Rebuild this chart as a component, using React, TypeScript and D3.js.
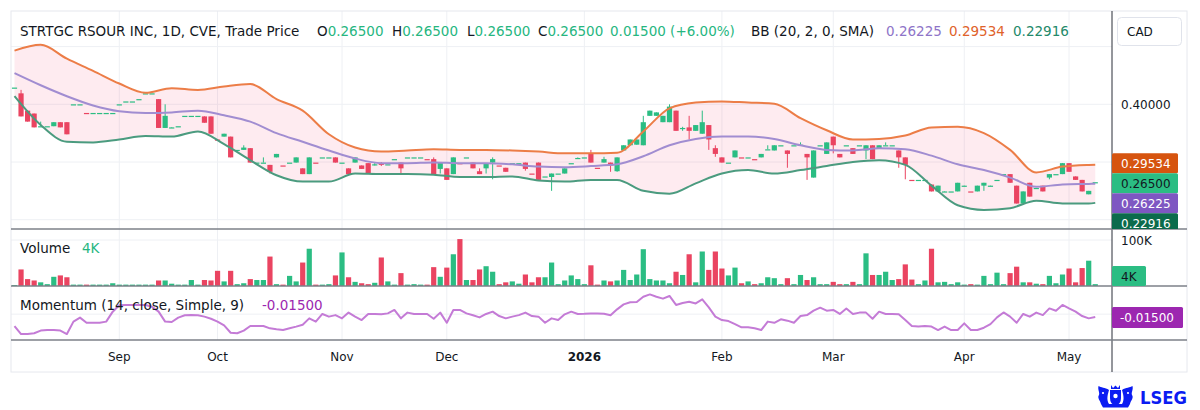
import * as d3 from "d3";
import { useEffect } from "react";

// x-axis: bar index of the first session of each month
const monthIdx = [16, 31, 50, 66, 87, 108, 125, 145, 161];
const monthLabels = ["Sep", "Oct", "Nov", "Dec", "2026", "Feb", "Mar", "Apr", "May"];

// daily bars, a single number means open = high = low = close
const ohlc: (number | number[])[] = [
  0.429, [0.419, 0.425, 0.379, 0.379], [0.389, 0.389, 0.37, 0.37], [0.384, 0.384, 0.36, 0.36], [0.362, 0.37, 0.362, 0.362],
  0.362, [0.362, 0.369, 0.362, 0.369], [0.369, 0.369, 0.36, 0.36], [0.369, 0.369, 0.348, 0.348], 0.4,
  0.4, 0.385, 0.385, 0.385, 0.385,
  0.385, 0.4, 0.405, 0.405, 0.409,
  0.419, 0.419, [0.409, 0.409, 0.359, 0.359], [0.359, 0.4, 0.359, 0.38], [0.359, 0.36, 0.359, 0.36],
  0.362, 0.38, 0.38, 0.38, [0.379, 0.379, 0.368, 0.368],
  [0.379, 0.379, 0.349, 0.349], 0.339, [0.344, 0.349, 0.344, 0.349], [0.344, 0.344, 0.308, 0.308], 0.321,
  [0.321, 0.329, 0.321, 0.325], [0.324, 0.324, 0.299, 0.299], 0.299, [0.299, 0.308, 0.299, 0.299], [0.295, 0.295, 0.28, 0.283],
  [0.308, 0.314, 0.308, 0.314], 0.294, 0.299, [0.299, 0.308, 0.299, 0.308], [0.289, 0.289, 0.279, 0.279],
  [0.279, 0.308, 0.279, 0.308], 0.299, 0.308, 0.308, [0.308, 0.308, 0.299, 0.299],
  0.299, [0.289, 0.289, 0.279, 0.279], [0.299, 0.308, 0.299, 0.308], [0.294, 0.294, 0.288, 0.288], [0.298, 0.298, 0.279, 0.279],
  [0.296, 0.298, 0.294, 0.296], [0.298, 0.3, 0.293, 0.295], 0.296, 0.305, [0.299, 0.299, 0.28, 0.289],
  0.308, 0.308, 0.308, 0.305, [0.305, 0.308, 0.279, 0.279],
  [0.288, 0.299, 0.28, 0.299], [0.289, 0.289, 0.269, 0.269], [0.279, 0.308, 0.279, 0.308], 0.298, 0.308,
  [0.299, 0.299, 0.289, 0.289], [0.284, 0.289, 0.279, 0.279], [0.289, 0.298, 0.28, 0.298], [0.299, 0.308, 0.27, 0.305], 0.294,
  [0.29, 0.29, 0.283, 0.283], 0.298, 0.298, [0.299, 0.299, 0.285, 0.288], 0.28,
  [0.299, 0.299, 0.269, 0.269], 0.275, [0.274, 0.28, 0.25, 0.28], 0.28, [0.28, 0.289, 0.28, 0.289],
  0.298, [0.307, 0.308, 0.307, 0.307], 0.308, [0.315, 0.321, 0.299, 0.299], 0.29,
  [0.299, 0.309, 0.299, 0.305], [0.299, 0.299, 0.283, 0.294], [0.284, 0.308, 0.283, 0.308], [0.32, 0.329, 0.32, 0.329], [0.329, 0.339, 0.329, 0.339],
  [0.33, 0.339, 0.33, 0.339], [0.329, 0.38, 0.329, 0.369], [0.38, 0.389, 0.38, 0.389], [0.38, 0.386, 0.38, 0.386], [0.369, 0.38, 0.369, 0.38],
  [0.369, 0.4, 0.369, 0.396], [0.389, 0.389, 0.354, 0.354], [0.359, 0.361, 0.354, 0.359], [0.36, 0.38, 0.339, 0.354], [0.354, 0.364, 0.354, 0.364],
  [0.349, 0.389, 0.349, 0.369], [0.364, 0.364, 0.321, 0.339], [0.324, 0.329, 0.309, 0.314], [0.308, 0.308, 0.299, 0.299], 0.299,
  [0.308, 0.32, 0.308, 0.32], 0.308, 0.308, 0.305, [0.308, 0.314, 0.308, 0.314],
  [0.322, 0.329, 0.322, 0.322], [0.32, 0.329, 0.32, 0.329], 0.329, [0.32, 0.32, 0.29, 0.314], 0.329,
  [0.328, 0.334, 0.328, 0.33], [0.314, 0.314, 0.269, 0.308], [0.273, 0.32, 0.273, 0.32], 0.329, [0.314, 0.334, 0.314, 0.334],
  [0.344, 0.344, 0.315, 0.329], [0.314, 0.314, 0.308, 0.308], 0.329, [0.324, 0.324, 0.314, 0.314], 0.329,
  [0.32, 0.329, 0.305, 0.329], [0.329, 0.329, 0.305, 0.305], [0.324, 0.329, 0.324, 0.329], [0.329, 0.334, 0.329, 0.329], 0.329,
  [0.32, 0.32, 0.29, 0.308], [0.308, 0.308, 0.27, 0.295], 0.269, 0.269, 0.269,
  [0.261, 0.261, 0.249, 0.249], [0.249, 0.259, 0.249, 0.259], [0.248, 0.249, 0.248, 0.249], 0.249, [0.249, 0.264, 0.249, 0.264],
  [0.258, 0.259, 0.258, 0.259], 0.249, [0.249, 0.259, 0.249, 0.259], [0.259, 0.264, 0.25, 0.264], [0.258, 0.259, 0.258, 0.259],
  0.269, 0.279, [0.279, 0.279, 0.264, 0.264], [0.259, 0.259, 0.228, 0.228], [0.228, 0.249, 0.228, 0.249],
  [0.264, 0.264, 0.24, 0.24], 0.255, [0.259, 0.259, 0.249, 0.249], [0.273, 0.279, 0.27, 0.279], 0.279,
  [0.279, 0.298, 0.279, 0.298], [0.298, 0.298, 0.283, 0.283], [0.275, 0.275, 0.269, 0.269], [0.269, 0.269, 0.249, 0.249], [0.244, 0.25, 0.244, 0.25],
  0.265,
];

// volume in thousands of shares
const volumeK = [
  2, 36, 15, 12, 8, 4, 20, 23, 19, 3,
  3, 3, 3, 3, 3, 6, 3, 3, 3, 3,
  3, 3, 12, 12, 5, 3, 3, 13, 3, 13,
  12, 33, 10, 33, 4, 6, 15, 13, 13, 64,
  4, 3, 22, 10, 51, 81, 3, 3, 4, 23,
  73, 19, 9, 6, 4, 7, 62, 10, 3, 28,
  3, 4, 3, 3, 41, 20, 40, 69, 102, 13,
  13, 36, 43, 31, 4, 8, 10, 5, 25, 8,
  19, 19, 51, 4, 12, 23, 15, 4, 45, 3,
  12, 10, 12, 35, 13, 25, 80, 15, 12, 12,
  6, 31, 24, 69, 8, 75, 35, 75, 38, 23,
  40, 6, 10, 4, 6, 19, 17, 4, 17, 4,
  24, 13, 19, 4, 4, 9, 4, 4, 9, 4,
  71, 24, 24, 31, 13, 15, 47, 14, 4, 12,
  81, 8, 9, 4, 8, 3, 4, 3, 22, 4,
  29, 4, 28, 42, 8, 8, 5, 4, 22, 6,
  25, 38, 8, 39, 55, 4,
];

// Momentum (14, close)
const momentum = [
  -0.062, -0.104, -0.104, -0.1, -0.086, -0.083, -0.083, -0.086, -0.104, -0.039,
  -0.018, -0.045, -0.045, -0.045, -0.039, 0.013, 0.046, 0.048, 0.048, 0.048,
  0.048, 0.039, 0.013, -0.039, -0.041, -0.018, -0.006, -0.005, -0.006, -0.013,
  -0.024, -0.039, -0.059, -0.097, -0.1, -0.086, -0.062, -0.062, -0.062, -0.074,
  -0.079, -0.083, -0.074, -0.065, -0.055, -0.022, -0.039, 0.001, -0.013, -0.005,
  -0.022, 0.008, -0.013, -0.031, 0.001, 0.001, -0.001, 0.004, 0.022, -0.022,
  0.008, 0.001, 0.001, 0.001, -0.024, 0.008, -0.045, 0.022, 0.022, 0.004,
  -0.006, -0.017, 0.001, 0.013, -0.01, -0.022, -0.013, -0.005, 0.008, -0.01,
  -0.013, -0.045, -0.022, -0.031, -0.001, 0.013, 0.001, 0.002, 0.004, 0.004,
  0.002, -0.006, 0.025, 0.051, 0.062, 0.063, 0.091, 0.103, 0.091, 0.081,
  0.095, 0.048, 0.058, 0.065, 0.056, 0.077, 0.035, -0.013, -0.031, -0.036,
  -0.052, -0.069, -0.069, -0.074, -0.083, -0.039, -0.045, -0.027, -0.034, -0.045,
  -0.01, -0.005, 0.018, 0.034, 0.018, 0.022, 0.001, 0.029, 0.001, 0.008,
  0.008, -0.024, 0.013, 0.001, 0.001, -0.001, -0.031, -0.062, -0.065, -0.062,
  -0.065, -0.083, -0.065, -0.083, -0.083, -0.048, -0.083, -0.083, -0.071, -0.052,
  -0.017, 0.009, -0.013, -0.045, 0.001, -0.013, 0.008, -0.005, 0.03, 0.018,
  0.048, 0.03, 0.013, -0.01, -0.022, -0.015,
];

// Bollinger bands (20, 2) read every 4 bars
const bandIdx = [
  0, 4, 8, 12, 16, 20, 24, 28, 32, 36, 40, 44, 48, 52, 56, 60, 64, 68, 72, 76, 80,
  84, 88, 92, 96, 100, 104, 108, 112, 116, 120, 124, 128, 132, 136, 140, 144, 148, 152, 156, 160, 164, 165,
];
const bbUpper = [
  0.493, 0.503, 0.479, 0.458, 0.436, 0.42, 0.428, 0.425, 0.431, 0.435, 0.409, 0.389, 0.348, 0.325, 0.318, 0.32,
  0.322, 0.321, 0.321, 0.32, 0.318, 0.315, 0.315, 0.316, 0.353, 0.393, 0.403, 0.405, 0.403, 0.401, 0.376, 0.355,
  0.339, 0.34, 0.346, 0.36, 0.361, 0.35, 0.321, 0.282, 0.292, 0.295, 0.29534,
];
const bbBasis = [
  0.454, 0.433, 0.414, 0.398, 0.388, 0.385, 0.386, 0.389, 0.381, 0.37, 0.35, 0.335, 0.32, 0.306, 0.298, 0.298,
  0.299, 0.298, 0.298, 0.296, 0.292, 0.291, 0.293, 0.296, 0.31, 0.329, 0.34, 0.344, 0.344, 0.34, 0.329, 0.321,
  0.32, 0.324, 0.322, 0.311, 0.296, 0.286, 0.273, 0.257, 0.261, 0.262, 0.26225,
];
const bbLower = [
  0.414, 0.364, 0.335, 0.334, 0.339, 0.345, 0.344, 0.353, 0.331, 0.303, 0.277, 0.266, 0.266, 0.28, 0.279, 0.279,
  0.278, 0.274, 0.274, 0.275, 0.268, 0.266, 0.269, 0.269, 0.25, 0.245, 0.263, 0.28, 0.286, 0.28, 0.286, 0.293,
  0.3, 0.303, 0.295, 0.259, 0.225, 0.217, 0.22, 0.233, 0.228, 0.228, 0.22916,
];

const priceTicks = [0.2, 0.3, 0.4, 0.5];

const UP = "#2bbd83";
const DOWN = "#ea4461";
const TXT = "#131722";
const GRID = "#eef0f4";
const FONT = "DejaVu Sans, sans-serif";

// d3 formats negatives with a unicode minus, the chart shows a plain hyphen
const f5 = (v: number) => d3.format(".5f")(v).replace("\u2212", "-");

export default function App() {
  useEffect(() => {
    document.body.style.margin = "0";
  }, []);

  const bars = ohlc.map((b) =>
    typeof b === "number" ? { o: b, h: b, l: b, c: b } : { o: b[0], h: b[1], l: b[2], c: b[3] }
  );
  const n = bars.length;
  const colorOf = (i: number) => {
    const { o, c } = bars[i];
    if (c > o) return UP;
    if (c < o) return DOWN;
    return i > 0 && c < bars[i - 1].c ? DOWN : UP;
  };

  const left = 11;
  const axisX = 1112;
  const right = 1187;
  const mainBottom = 229;
  const volBottom = 286;
  const momBottom = 340;
  const bottom = 372;

  const x = d3.scaleLinear().domain([0, n - 1]).range([14.5, 14.5 + 6.55 * (n - 1)]);
  const yP = d3.scaleLinear().domain([0.2, 0.5]).range([219.7, 46.6]);
  const yV = d3.scaleLinear().domain([0, 100]).range([volBottom, 240]);
  const yM = d3.scaleLinear().domain([-0.135, 0.147]).range([momBottom, volBottom]);

  const bandLine = (vals: number[]) =>
    d3
      .line<number>()
      .x((_, k) => x(bandIdx[k]))
      .y((v) => yP(v))
      .curve(d3.curveMonotoneX)(vals) || "";
  const bandArea =
    d3
      .area<number>()
      .x((_, k) => x(bandIdx[k]))
      .y0((_, k) => yP(bbLower[k]))
      .y1((v) => yP(v))
      .curve(d3.curveMonotoneX)(bbUpper) || "";
  const momPath =
    d3
      .line<number>()
      .x((_, i) => x(i))
      .y((v) => yM(v))(momentum) || "";

  const last = bars[n - 1];
  const prev = bars[n - 2];
  const chg = last.c - prev.c;
  const lastUpper = bbUpper[bbUpper.length - 1];
  const lastBasis = bbBasis[bbBasis.length - 1];
  const lastLower = bbLower[bbLower.length - 1];
  const lastMom = momentum[n - 1];
  const lastVol = volumeK[n - 1];

  // price-axis value labels, pushed apart so they do not overlap
  const tags = [
    { v: lastUpper, fill: "#d6540f", color: "#fff" },
    { v: last.c, fill: UP, color: TXT },
    { v: lastBasis, fill: "#7e57c2", color: "#fff" },
    { v: lastLower, fill: "#0b6b4c", color: "#fff" },
  ]
    .map((t) => ({ ...t, y: yP(t.v) }))
    .sort((a, b) => a.y - b.y);
  for (let k = 1; k < tags.length; k++) {
    if (tags[k].y < tags[k - 1].y + 20) tags[k].y = tags[k - 1].y + 20;
  }
  tags.forEach((t) => (t.y -= 1.5));
  const visibleTicks = priceTicks.filter(
    (p) => yP(p) > 52 && tags.every((t) => Math.abs(t.y - yP(p)) > 14)
  );

  const green = "#26b67f";

  return (
    <svg
      width={1200}
      height={410}
      style={{ position: "absolute", left: 0, top: 0, background: "#fff" }}
      fontFamily={FONT}
    >
      <defs>
        <clipPath id="mainClip">
          <rect x={left} y={11} width={axisX - left} height={mainBottom - 11} />
        </clipPath>
        <clipPath id="axisClip">
          <rect x={axisX} y={11} width={right - axisX} height={mainBottom - 11} />
        </clipPath>
        <clipPath id="lowClip">
          <rect x={left} y={mainBottom} width={axisX - left} height={momBottom - mainBottom} />
        </clipPath>
      </defs>

      <rect x={0} y={0} width={1200} height={410} fill="#fff" />

      {/* grid */}
      {monthIdx.map((m) => (
        <line key={m} x1={x(m)} x2={x(m)} y1={11} y2={momBottom} stroke={GRID} />
      ))}
      {priceTicks.map((p) => (
        <line key={p} x1={left} x2={axisX} y1={yP(p)} y2={yP(p)} stroke={GRID} />
      ))}
      <line x1={left} x2={axisX} y1={yV(100)} y2={yV(100)} stroke={GRID} />
      <line x1={left} x2={axisX} y1={yM(0)} y2={yM(0)} stroke={GRID} />

      {/* price pane */}
      <g clipPath="url(#mainClip)">
        <path d={bandArea} fill="#f23d6a" fillOpacity={0.1} />
        {bars.map((b, i) => {
          const cx = x(i);
          const col = colorOf(i);
          const yo = yP(b.o);
          const yc = yP(b.c);
          const top = Math.min(yo, yc);
          const h = Math.max(1.2, Math.abs(yo - yc));
          return (
            <g key={i}>
              {b.h > b.l && (
                <line x1={cx} x2={cx} y1={yP(b.h)} y2={yP(b.l)} stroke={col} strokeWidth={1} />
              )}
              <rect x={cx - 2.6} y={top} width={5.2} height={h} fill={col} />
            </g>
          );
        })}
        <path d={bandLine(bbUpper)} fill="none" stroke="#ec7d47" strokeWidth={2} />
        <path d={bandLine(bbBasis)} fill="none" stroke="#a18dd1" strokeWidth={2} />
        <path d={bandLine(bbLower)} fill="none" stroke="#4b9b7f" strokeWidth={2} />
      </g>

      {/* volume and momentum panes */}
      <g clipPath="url(#lowClip)">
        {volumeK.map((v, i) => (
          <rect
            key={i}
            x={x(i) - 2.6}
            y={yV(v)}
            width={5.2}
            height={volBottom - yV(v)}
            fill={colorOf(i)}
          />
        ))}
        <path d={momPath} fill="none" stroke="#c47bd6" strokeWidth={2} strokeLinejoin="round" />
      </g>

      {/* frame and separators */}
      <rect x={left} y={11} width={right - left} height={bottom - 11} fill="none" stroke="#e6e8ee" />
      <line x1={axisX} x2={axisX} y1={11} y2={bottom} stroke="#2a2e39" strokeWidth={1} />
      {[mainBottom, volBottom, momBottom].map((y) => (
        <line key={y} x1={left} x2={right} y1={y} y2={y} stroke="#7d8089" strokeWidth={1.6} />
      ))}

      {/* header */}
      <text y={36} fontSize={13.5} fill={TXT}>
        <tspan x={20}>STRTGC RSOUR INC, 1D, CVE, Trade Price</tspan>
        <tspan x={317}>O</tspan>
        <tspan fill={green}>{f5(last.o)}</tspan>
        <tspan x={392}>H</tspan>
        <tspan fill={green}>{f5(last.h)}</tspan>
        <tspan x={467}>L</tspan>
        <tspan fill={green}>{f5(last.l)}</tspan>
        <tspan x={538}>C</tspan>
        <tspan fill={green}>{f5(last.c)}</tspan>
        <tspan x={610} fill={green}>
          {f5(chg)} ({chg >= 0 ? "+" : ""}
          {d3.format(".2f")((chg / prev.c) * 100)}%)
        </tspan>
        <tspan x={751}>BB (20, 2, 0, SMA)</tspan>
        <tspan x={886} fill="#8e74c8">{f5(lastBasis)}</tspan>
        <tspan x={949} fill="#e0622a">{f5(lastUpper)}</tspan>
        <tspan x={1013} fill="#23896a">{f5(lastLower)}</tspan>
      </text>

      <text x={20} y={253} fontSize={13.5} fill={TXT}>
        Volume
        <tspan x={82} fill={green}>{lastVol}K</tspan>
      </text>
      <text x={20} y={310} fontSize={13.5} fill={TXT}>
        Momentum (14, close, Simple, 9)
        <tspan x={262} fill="#9c27b0">{f5(lastMom)}</tspan>
      </text>

      {/* right price axis */}
      <rect x={1117.5} y={17.5} width={64} height={28} rx={4} fill="#fff" stroke="#e0e3eb" />
      <text x={1127} y={36} fontSize={12} fill={TXT}>CAD</text>
      {visibleTicks.map((p) => (
        <text key={p} x={1121} y={yP(p) + 4.5} fontSize={12} fill={TXT}>
          {f5(p)}
        </text>
      ))}
      <g clipPath="url(#axisClip)">
        {tags.map((t, k) => (
          <g key={k}>
            <rect x={axisX} y={t.y - 10} width={66} height={20} rx={1.5} fill={t.fill} />
            <text x={1121} y={t.y + 4.5} fontSize={12} fill={t.color}>
              {f5(t.v)}
            </text>
          </g>
        ))}
      </g>
      <text x={1121} y={yV(100) + 4.5} fontSize={12} fill={TXT}>100K</text>
      <rect x={axisX} y={266} width={34} height={20} rx={1.5} fill={UP} />
      <text x={1121} y={280.5} fontSize={12} fill={TXT}>{lastVol}K</text>
      <rect x={axisX} y={307} width={71} height={21} rx={1.5} fill="#9c27b0" />
      <text x={1120} y={322} fontSize={12} fill="#fff">{f5(lastMom)}</text>

      {/* time axis */}
      {monthIdx.map((m, k) => (
        <text
          key={m}
          x={x(m)}
          y={361}
          fontSize={12}
          textAnchor="middle"
          fill={TXT}
          fontWeight={monthLabels[k] === "2026" ? "bold" : "normal"}
        >
          {monthLabels[k]}
        </text>
      ))}

      {/* LSEG mark */}
      <g transform="translate(1097,385)" fill="#0b1cf2">
        <path d="M14,0 L16,3 L18.5,0.5 L21,3 L23,0 L23,4 L14,4 Z" />
        <path d="M13,5 H24 V13 Q24,19 18.5,21 Q13,19 13,13 Z" />
        <path d="M12,5 C8,2 4,3 1.5,1 C0.5,5 3,7 2,10 C0,13 3,15 4,19 L12,19 C9,14 11,9 12,5 Z" />
        <path d="M25,5 C29,2 33,3 35.5,1 C36.5,5 34,7 35,10 C37,13 34,15 33,19 L25,19 C28,14 26,9 25,5 Z" />
        <path d="M4,19 H33 L31,22.5 H6 Z" />
        <circle cx={18.5} cy={11} r={2.2} fill="#fff" />
        <circle cx={6} cy={8} r={1.1} fill="#fff" />
        <circle cx={31} cy={8} r={1.1} fill="#fff" />
      </g>
      <text
        x={1140}
        y={403.5}
        fontSize={18}
        fontWeight="bold"
        fill="#0b1cf2"
        textLength={47}
        lengthAdjust="spacingAndGlyphs"
      >
        LSEG
      </text>
    </svg>
  );
}
